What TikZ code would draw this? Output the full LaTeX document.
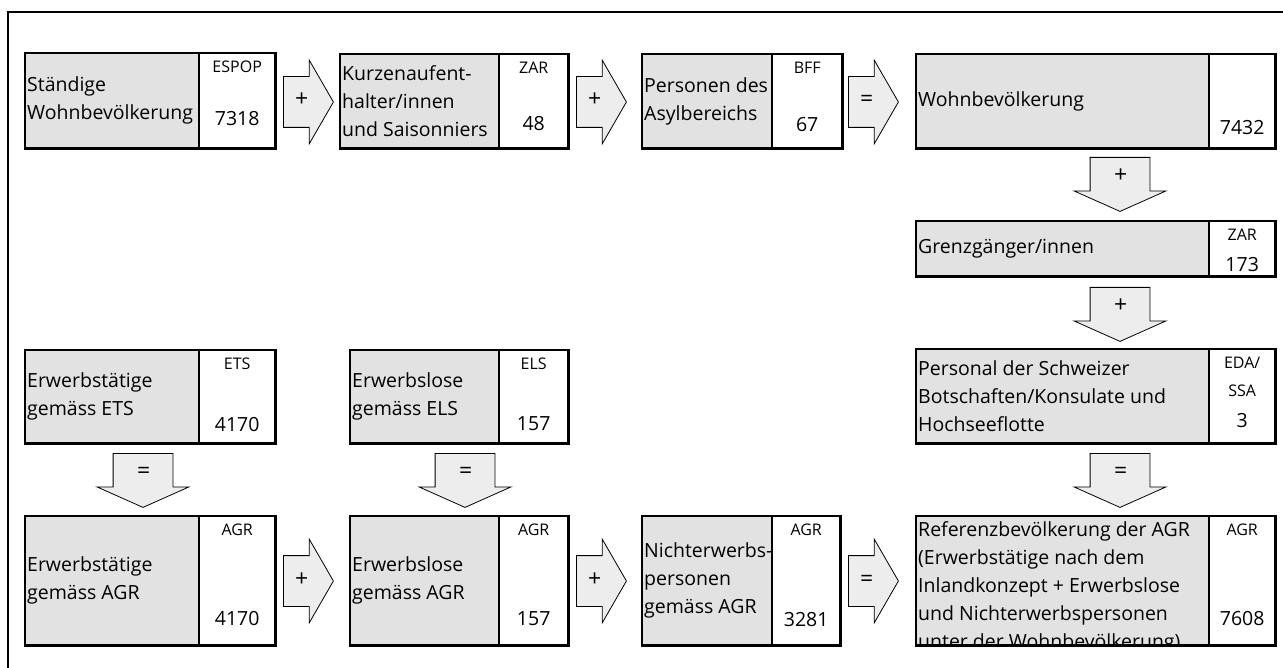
\documentclass[tikz,border=0pt]{standalone}
\usepackage{fontspec}
\setmainfont{Open Sans}
\usetikzlibrary{shapes.arrows}
\definecolor{cellgray}{RGB}{226,226,226}
\definecolor{arrgray}{RGB}{237,237,237}
% one statistics box: grey text cell + white source/value cell
% [#1] text shift, #2 name, #3 x left, #4 x divider, #5 x right, #6 y top, #7 y bottom, #8 text, #9 source
\newcommand{\statbox}[9][0pt]{%
  \node[cellbox,fill=cellgray,minimum width=#4-#3,minimum height=#7-#6] (#2) at (#3,#6) {};
  \node[cellbox,fill=white,minimum width=#5-#4,minimum height=#7-#6] (#2v) at (#4,#6) {};
  \begin{scope}
    \clip (#2.north west) rectangle (#2.south east);
    \node[celltxt] (#2t) at ([yshift=#1]#2.west) {#8};
  \end{scope}
  \node[srctxt] (#2s) at ([yshift=-8pt]#2v.north) {#9};
  \draw[boxline] (#2.north west) rectangle (#2v.south east) (#2v.north west) -- (#2v.south west);
}
\tikzset{
  cellbox/.style={rectangle,anchor=north west,inner sep=0pt},
  celltxt/.style={anchor=west,align=left,inner xsep=2pt,inner ysep=0pt,font=\fontsize{19.5}{28}\selectfont},
  srctxt/.style={anchor=north,inner sep=0pt,align=center,font=\fontsize{16}{28}\selectfont},
  numtxt/.style={anchor=base,inner sep=0pt,font=\fontsize{19.5}{24}\selectfont},
  boxline/.style={line width=2.7pt},
  harr/.style={single arrow,draw,line width=0.8pt,fill=arrgray,anchor=tail,
    text width=12pt,align=center,text height=12pt,text depth=2pt,
    inner xsep=2pt,inner ysep=18pt,minimum height=50,
    single arrow head extend=16.5,single arrow tip angle=120,
    font=\fontsize{23}{24}\selectfont},
  varr/.style={harr,shape border rotate=270,inner xsep=23.5pt,inner ysep=2pt,
    minimum height=54,single arrow head extend=16,single arrow tip angle=132}
}
\begin{document}
\begin{tikzpicture}[x=1pt,y=-1pt]
  \useasboundingbox (0,0) rectangle (1283,668);
  \draw[line width=2.5pt] (8,668) -- (8,12) -- (1283,12);
  % top row
  \statbox{swb}{25}{199}{275}{53}{148}{Ständige\\Wohnbevölkerung}{ESPOP}
  \statbox{kza}{340}{499}{568}{54}{148}{Kurzenaufent-\\halter/innen\\und Saisonniers}{ZAR}
  \statbox{asy}{642}{772}{842}{54}{148}{Personen des\\Asylbereichs}{BFF}
  \statbox{wbv}{916}{1209}{1275}{54}{148}{Wohnbevölkerung}{}
  \node[numtxt] (swbn) at ([yshift=23pt]swbv.south) {7318};
  \node[numtxt] (kzan) at ([yshift=18pt]kzav.south) {48};
  \node[numtxt] (asyn) at ([yshift=17pt]asyv.south) {67};
  \node[numtxt] (wbvn) at ([yshift=14pt]wbvv.south) {7432};
  \node[harr] (p1) at (283,102) {+};
  \node[harr] (p2) at (576,102) {+};
  \node[harr] (q1) at (848,102) {=};
  % right column
  \statbox{grz}{916}{1209}{1275}{221}{276}{Grenzgänger/innen}{ZAR}
  \statbox{bot}{916}{1209}{1275}{349}{443}{Personal der Schweizer\\Botschaften/Konsulate und\\Hochseeflotte}{EDA/\\SSA}
  \node[numtxt] (grzn) at ([yshift=5pt]grzv.south) {173};
  \node[numtxt] (botn) at ([yshift=16pt]botv.south) {3};
  \node[varr] (p3) at (1120,157) {+};
  \node[varr] (p4) at (1120,287) {+};
  \node[varr] (q2) at (1120,453) {=};
  % survey boxes
  \statbox{ets}{25}{199}{275}{350}{443}{Erwerbstätige\\gemäss ETS}{ETS}
  \statbox{els}{350}{499}{568}{350}{443}{Erwerbslose\\gemäss ELS}{ELS}
  \node[numtxt] (etsn) at ([yshift=12pt]etsv.south) {4170};
  \node[numtxt] (elsn) at ([yshift=13pt]elsv.south) {157};
  \node[varr] (q3) at (143,453) {=};
  \node[varr] (q4) at (465,453) {=};
  % bottom row
  \statbox{etg}{25}{199}{275}{516}{645}{Erwerbstätige\\gemäss AGR}{AGR}
  \statbox{elg}{350}{499}{568}{516}{645}{Erwerbslose\\gemäss AGR}{AGR}
  \statbox{nep}{642}{772}{840}{516}{645}{Nichterwerbs-\\personen\\gemäss AGR}{AGR}
  \statbox[-7pt]{ref}{916}{1209}{1275}{516}{645}{Referenzbevölkerung der AGR\\(Erwerbstätige nach dem\\Inlandkonzept + Erwerbslose\\und Nichterwerbspersonen\\unter der Wohnbevölkerung)}{AGR}
  \node[numtxt] (etgn) at ([yshift=20pt]etgv.south) {4170};
  \node[numtxt] (elgn) at ([yshift=20pt]elgv.south) {157};
  \node[numtxt] (nepn) at ([yshift=19pt]nepv.south) {3281};
  \node[numtxt] (refn) at ([yshift=20pt]refv.south) {7608};
  \node[harr] (p5) at (283,581) {+};
  \node[harr] (p6) at (576,581) {+};
  \node[harr] (q5) at (848,581) {=};
\end{tikzpicture}
\end{document}
